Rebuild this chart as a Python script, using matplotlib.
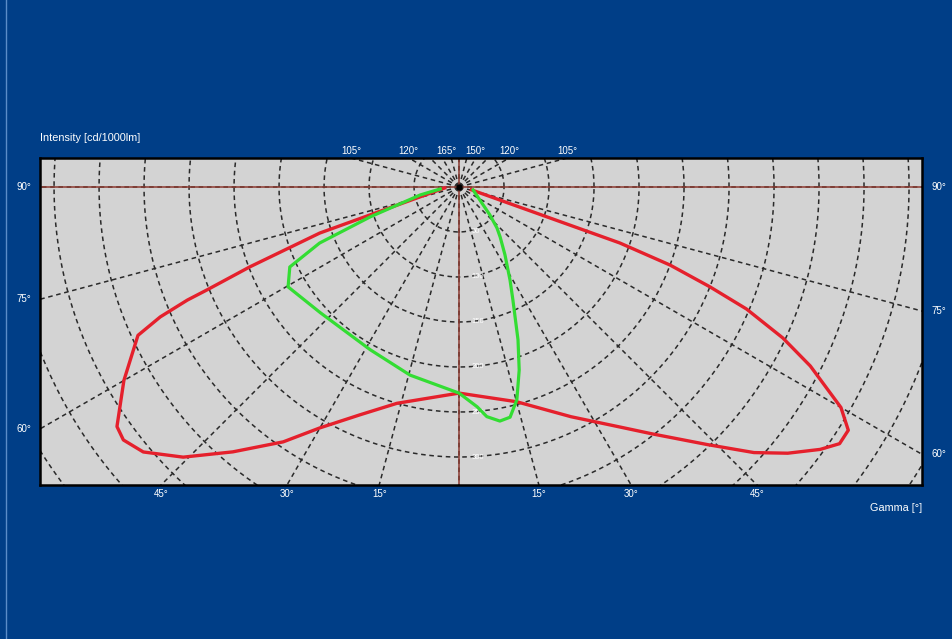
import numpy as np
import matplotlib.pyplot as plt

# luminous intensity curves, gamma in degrees, values in cd/1000lm
# red: C0 half plane (right) and C180 half plane (left)
red_right_gamma = [0, 15, 26, 34, 38, 44, 48, 51, 54, 56, 58, 60, 63, 65, 67, 68.3, 69.7, 70.8, 77]
red_right_cd = [229, 247, 284, 322, 348, 398, 441, 470, 496, 510, 510, 490, 438, 397, 347, 300, 250, 189, 14]

red_left_gamma = [0, 16, 23.5, 30, 34.6, 40.5, 45.6, 50, 53, 55, 60, 65.2, 66.5, 67.4, 67.8, 69.1, 71.7, 86]
red_left_cd = [229, 250, 276, 309, 344, 387, 429, 458, 467, 464, 430, 393, 362, 327, 302, 249, 163, 16]

# green: C90/C270 plane, signed gamma (negative = left side)
green_gamma = [-84, -78.4, -71.4, -68.1, -64.7, -59.7, -47.8, -28.6, -14.6, 0, 4.7, 6.9, 9.9, 12.5,
               15.2, 18.2, 21.1, 25.5, 28.7, 34.1, 39.4, 42.8, 47.9, 78]
green_cd = [21, 44, 104, 167, 208, 220, 208, 206, 216, 229, 245, 257, 264, 262,
            245, 214, 182, 139, 118, 91, 72, 62, 46, 16]

ring_values = [50, 100, 150, 200, 250, 300, 350, 400, 450, 500, 550, 600]
ring_labels = [50, 100, 150, 200, 250, 300]
bottom_angles = [-45, -30, -15, 15, 30, 45]
side_angles = [60, 75, 90]
top_labels = ["105°", "120°", "165°", "150°", "120°", "105°"]
top_angles = [-105, -120, -165, 150, 120, 105]

BG = "#003e87"
PANEL = "#d3d3d3"
GRID = "#2a2a2a"


def to_xy(gamma, cd, side=1.0):
    g = np.radians(np.asarray(gamma, dtype=float))
    cd = np.asarray(cd, dtype=float)
    return side * cd * np.sin(g), -cd * np.cos(g)


fig = plt.figure(figsize=(9.52, 6.39), dpi=100, facecolor=BG)
plt.rcParams["font.family"] = ["Liberation Sans", "DejaVu Sans"]

ax = fig.add_axes([40 / 952, 1 - 485 / 639, 882 / 952, 327 / 639])
ax.set_facecolor(PANEL)
x0, x1 = -465.6, 514.4
y0, y1 = -331.1, 32.2
ax.set_xlim(x0, x1)
ax.set_ylim(y0, y1)
ax.set_xticks([])
ax.set_yticks([])
for s in ax.spines.values():
    s.set_color("black")
    s.set_linewidth(1.8)

# dashed polar grid
t = np.linspace(0, 2 * np.pi, 720)
for r in ring_values:
    ax.plot(r * np.cos(t), r * np.sin(t), color=GRID, lw=1.1,
            dashes=(3, 2.4), zorder=1)
for g in range(0, 360, 15):
    gx, gy = to_xy([0, g], [0, 900])
    ax.plot(gx, gy, color=GRID, lw=1.1, dashes=(3, 2.4), zorder=1)

# main axes through the light source
ax.axhline(0, color="#8c3a30", lw=1.1, zorder=2)
ax.axvline(0, color="#8c3a30", lw=1.1, zorder=2)

# radial value labels
for v in ring_labels:
    ax.text(14, -v, str(v), color="white", fontsize=5.5, ha="left",
            va="center", zorder=3)

# curves
rlx, rly = to_xy(red_left_gamma[::-1], red_left_cd[::-1], side=-1)
rrx, rry = to_xy(red_right_gamma, red_right_cd)
ax.plot(np.concatenate([rlx, rrx]), np.concatenate([rly, rry]),
        color="#e5202c", lw=2.4, solid_joinstyle="round", zorder=4)

gx, gy = to_xy(np.abs(green_gamma), green_cd)
gx = np.sign(green_gamma) * np.abs(gx)
ax.plot(gx, gy, color="#33dd33", lw=2.3, solid_joinstyle="round", zorder=4)

ax.plot(0, 0, "o", color="black", ms=3.5, zorder=5)

# angle labels round the frame
lab = dict(color="white", fontsize=7, ha="center", va="center")
for g in bottom_angles:
    x = -y0 * np.tan(np.radians(g))
    ax.text(x, -0.027, f"{abs(g)}°", transform=ax.get_xaxis_transform(), **lab)
for g in side_angles:
    yl = -abs(x0) / np.tan(np.radians(g)) if g != 90 else 0
    yr = -x1 / np.tan(np.radians(g)) if g != 90 else 0
    ax.text(-0.018, yl, f"{g}°", transform=ax.get_yaxis_transform(), **lab)
    ax.text(1.019, yr, f"{g}°", transform=ax.get_yaxis_transform(), **lab)
for txt, g in zip(top_labels, top_angles):
    gr = np.radians(abs(g))
    x = np.sign(g) * y1 * np.tan(np.pi - gr)
    if txt == "165°":
        x -= 5
    ax.text(x, 1.022, txt, transform=ax.get_xaxis_transform(), **lab)

ax.text(0.0, 1.06, "Intensity [cd/1000lm]", transform=ax.transAxes,
        color="white", fontsize=7.8, ha="left", va="center")
ax.text(1.0, -0.07, "Gamma [°]", transform=ax.transAxes,
        color="white", fontsize=7.8, ha="right", va="center")

# thin light edge on the left of the picture
fig.add_artist(plt.Line2D([6 / 952, 6 / 952], [0, 1], color="#5b8cc8",
                          lw=1.0, transform=fig.transFigure))

fig.savefig("out.png", dpi=100, facecolor=BG)
